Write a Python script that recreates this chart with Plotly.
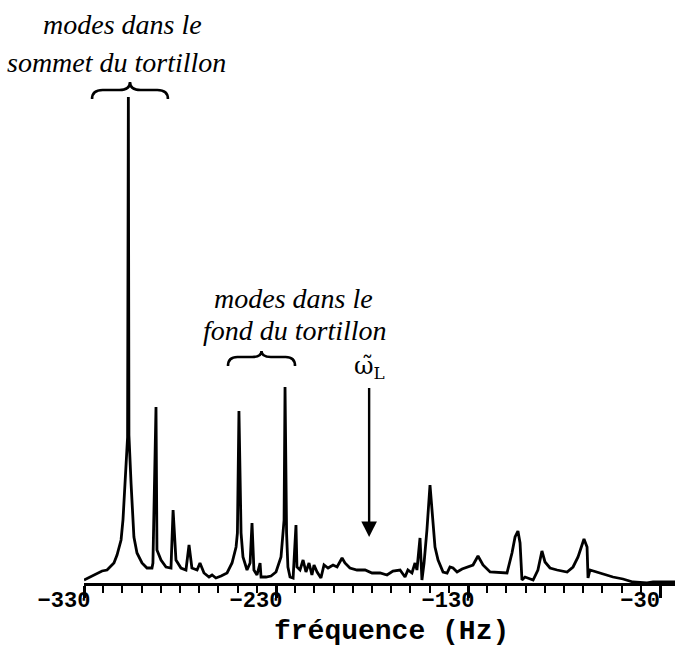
import plotly.graph_objects as go

# Spectrum (frequency in Hz, amplitude in arbitrary units)
freq_hz = [
    -330.0, -324.8, -320.6, -318.0, -314.4, -312.8, -310.7, -309.7, -308.6, -308.1,
    -307.3, -306.9, -306.6, -305.5, -304.5, -304.0, -302.4, -299.8, -297.2, -294.6,
    -294.1, -292.5, -292.0, -289.9, -287.3, -284.7, -283.6, -282.1, -279.5, -276.9,
    -275.3, -273.8, -271.1, -269.6, -267.5, -264.9, -263.3, -261.3, -258.6, -255.5,
    -252.9, -250.8, -250.1, -249.3, -248.2, -247.2, -245.1, -243.5, -242.5, -241.5,
    -239.9, -238.3, -237.8, -235.2, -232.6, -230.0, -227.4, -226.4, -225.8, -225.3,
    -224.5, -223.8, -222.7, -221.1, -219.6, -219.1, -217.5, -215.9, -214.4, -212.8,
    -211.3, -210.2, -208.6, -206.6, -205.0, -202.9, -200.3, -198.2, -195.6, -194.1,
    -191.5, -187.8, -183.6, -180.0, -175.8, -172.2, -169.1, -165.4, -162.8, -161.3,
    -159.2, -157.6, -156.6, -155.0, -154.0, -152.9, -151.4, -149.8, -148.8, -147.2,
    -145.6, -143.0, -140.9, -139.4, -137.8, -135.7, -133.1, -130.0, -127.4, -124.8,
    -122.2, -118.5, -113.3, -109.7, -107.1, -105.5, -104.0, -102.9, -101.9, -100.3,
    -96.1, -93.6, -91.5, -89.9, -87.3, -83.6, -78.4, -75.3, -72.7, -70.6,
    -69.6, -68.0, -67.5, -66.5, -61.3, -54.5, -49.3, -44.1, -36.8, -33.6,
    -26.3, -22.2,
]
amplitude = [
    3, 8, 12, 13, 20, 28, 43, 63, 96, 120,
    146, 486, 148, 100, 65, 46, 30, 20, 15, 15,
    20, 176, 33, 23, 16, 15, 73, 23, 15, 13,
    38, 15, 13, 20, 10, 6, 8, 5, 7, 10,
    20, 36, 50, 172, 50, 26, 13, 20, 60, 13,
    8, 20, 6, 6, 7, 11, 26, 46, 63, 196,
    50, 16, 6, 5, 58, 16, 13, 23, 11, 20,
    8, 18, 11, 5, 18, 15, 18, 16, 25, 20,
    15, 13, 13, 10, 10, 8, 12, 13, 6, 13,
    10, 20, 13, 45, 3, 20, 53, 98, 70, 36,
    23, 11, 10, 16, 15, 11, 14, 16, 18, 27,
    18, 11, 10, 10, 30, 46, 52, 40, 3, 6,
    3, 13, 32, 21, 15, 13, 11, 16, 26, 40,
    44, 36, 5, 13, 10, 6, 4, 1, 0, 1,
    1, 1,
]
tick_values = [-330, -230, -130, -30]
tick_labels = ["\u2212330", "\u2212230", "\u2212130", "\u221230"]
omega_L = -181.5  # marked frequency

X_MIN, X_MAX = -330, -22.2
Y_MIN, Y_MAX = 0, 583

fig = go.Figure()
fig.add_trace(go.Scatter(
    x=freq_hz, y=amplitude, mode="lines",
    line=dict(color="black", width=2.8), hoverinfo="skip", showlegend=False,
))


def brace_path(x0, x1, y, h, hook):
    xm = (x0 + x1) / 2
    q = (x1 - x0) * 0.14
    return (f"M {x0},{y - hook} Q {x0},{y} {x0 + q},{y} L {xm - q},{y} "
            f"Q {xm},{y} {xm},{y + h} Q {xm},{y} {xm + q},{y} L {x1 - q},{y} "
            f"Q {x1},{y} {x1},{y - hook}")


for (x0, x1, yb, h, hk) in [(-325.8, -286.3, 493, 8, 9), (-255.0, -220.1, 226, 6, 9)]:
    fig.add_shape(type="path", path=brace_path(x0, x1, yb, h, hk), xref="x", yref="y",
                  line=dict(color="black", width=2.6))

hand = dict(family="Liberation Serif", size=28, color="black")
notes = [
    ("<i>modes dans le</i>", -310.0, 559),
    ("<i>sommet du tortillon</i>", -313.0, 521),
    ("<i>modes dans le</i>", -221.1, 285),
    ("<i>fond du tortillon</i>", -220.1, 253),
]
for txt, xx, yy in notes:
    fig.add_annotation(x=xx, y=yy, xref="x", yref="y", text=txt, showarrow=False,
                       font=hand, xanchor="center", yanchor="middle")

# arrow marking omega_L, with its label at the tail
fig.add_annotation(x=omega_L, y=46, xref="x", yref="y", text="\u03c9\u0303<sub>L</sub>",
                   showarrow=True, ax=0, ay=-170, arrowhead=2, arrowsize=1.3,
                   arrowwidth=2.4, arrowcolor="black", startstandoff=4,
                   font=dict(family="DejaVu Serif", size=24, color="black"))

# axis title as a free annotation, centred below the axis
fig.add_annotation(x=-169.6, y=-0.0835, xref="x", yref="paper", text="<b>fréquence (Hz)</b>",
                   showarrow=False, xanchor="center", yanchor="middle",
                   font=dict(family="Liberation Mono", size=28, color="black"))

fig.update_xaxes(
    range=[X_MIN, X_MAX], showline=True, linecolor="black", linewidth=3,
    ticks="outside", tickvals=tick_values, ticktext=tick_labels, ticklen=12,
    tickwidth=2.5, tickcolor="black", showgrid=False, zeroline=False,
    ticklabelshift=-20, ticklabelstandoff=-17, automargin=False,
    minor=dict(dtick=10, tick0=-330, ticks="outside", ticklen=7, tickwidth=2,
               tickcolor="black", showgrid=False),
    tickfont=dict(family="Liberation Mono", size=22, color="black", weight="bold"),
)
fig.update_yaxes(range=[Y_MIN, Y_MAX], visible=False, showgrid=False, zeroline=False,
                 automargin=False)

fig.update_layout(
    width=675, height=648,
    margin=dict(l=84, r=0, t=0, b=65, autoexpand=False),
    paper_bgcolor="white", plot_bgcolor="white",
    showlegend=False,
)

fig.write_html("out.html", config={"displayModeBar": False},
               post_script="document.body.style.margin='0';")
